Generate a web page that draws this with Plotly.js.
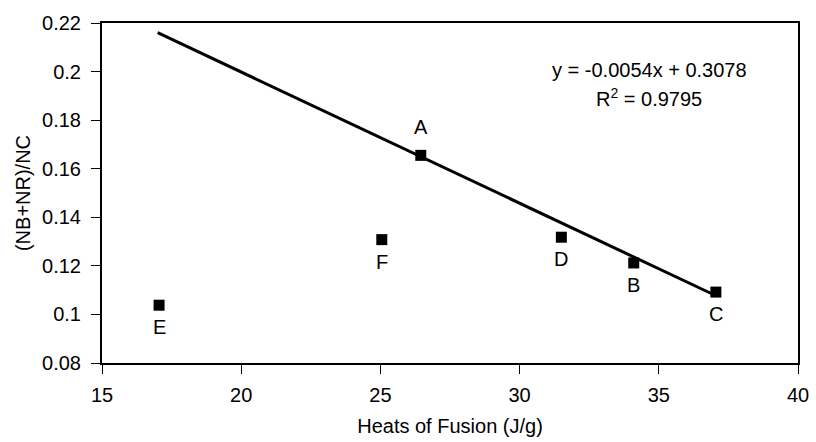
<!DOCTYPE html>
<html><head><meta charset="utf-8">
<script src="https://cdn.plot.ly/plotly-3.0.1.min.js"></script>
<style>html,body{margin:0;padding:0;background:#fff}#c{width:816px;height:442px}</style>
</head><body><div id="c"></div>
<script>
const labels = ['A','B','C','D','E','F'];
const heats = [26.45, 34.1, 37.05, 31.5, 17.05, 25.05];
const ratio = [0.1655, 0.1212, 0.1092, 0.1318, 0.1038, 0.1308];
const labelAbove = [true, false, false, false, false, false];
const fitX = [17, 37];
const slope = -0.0054, intercept = 0.3078;
const fitY = fitX.map(x => slope * x + intercept);
const eqText = 'y = -0.0054x + 0.3078';
const r2Text = 'R<sup>2</sup> = 0.9795';
const xTicks = [15, 20, 25, 30, 35, 40];
const yTicks = [0.08, 0.1, 0.12, 0.14, 0.16, 0.18, 0.2, 0.22];

const font = {family: 'Liberation Sans, Arial, sans-serif', color: '#000', size: 20};
const data = [
  {x: fitX, y: fitY, mode: 'lines', line: {color: '#000', width: 3}, hoverinfo: 'skip', showlegend: false},
  {x: heats, y: ratio, mode: 'markers', marker: {symbol: 'square', size: 11, color: '#000'}, cliponaxis: false, showlegend: false}
];
const pointLabels = labels.map((t, i) => ({
  x: heats[i], y: ratio[i], xref: 'x', yref: 'y', text: t, showarrow: false, font: font,
  xanchor: 'center', yanchor: 'middle', yshift: labelAbove[i] ? 28 : -22
}));
const layout = {
  width: 816, height: 442,
  margin: {l: 102, r: 18, t: 23, b: 79},
  paper_bgcolor: '#fff', plot_bgcolor: '#fff',
  font: font,
  showlegend: false,
  xaxis: {range: [15, 40], tickvals: xTicks, ticktext: xTicks.map(String), showgrid: false, zeroline: false,
    showline: true, linecolor: '#000', linewidth: 2, mirror: true, ticks: 'outside', ticklen: 9, tickcolor: '#000', tickwidth: 1,
    ticklabelstandoff: 4,
    tickfont: font, title: {text: 'Heats of Fusion (J/g)', font: font, standoff: 14}},
  yaxis: {range: [0.08, 0.22], tickvals: yTicks, ticktext: yTicks.map(v => String(+v.toFixed(2))), showgrid: false, zeroline: false,
    showline: true, linecolor: '#000', linewidth: 2, mirror: true, ticks: 'outside', ticklen: 9, tickcolor: '#000', tickwidth: 1,
    ticklabelstandoff: 6,
    tickfont: font, title: {text: '(NB+NR)/NC', font: font, standoff: 6}},
  annotations: pointLabels.concat([
    {x: 0.786, y: 0.862, xref: 'paper', yref: 'paper', text: eqText, showarrow: false, font: font, xanchor: 'center', yanchor: 'middle'},
    {x: 0.786, y: 0.782, xref: 'paper', yref: 'paper', text: r2Text, showarrow: false, font: font, xanchor: 'center', yanchor: 'middle'}
  ])
};
Plotly.newPlot('c', data, layout, {displayModeBar: false, staticPlot: true});
</script></body></html>
